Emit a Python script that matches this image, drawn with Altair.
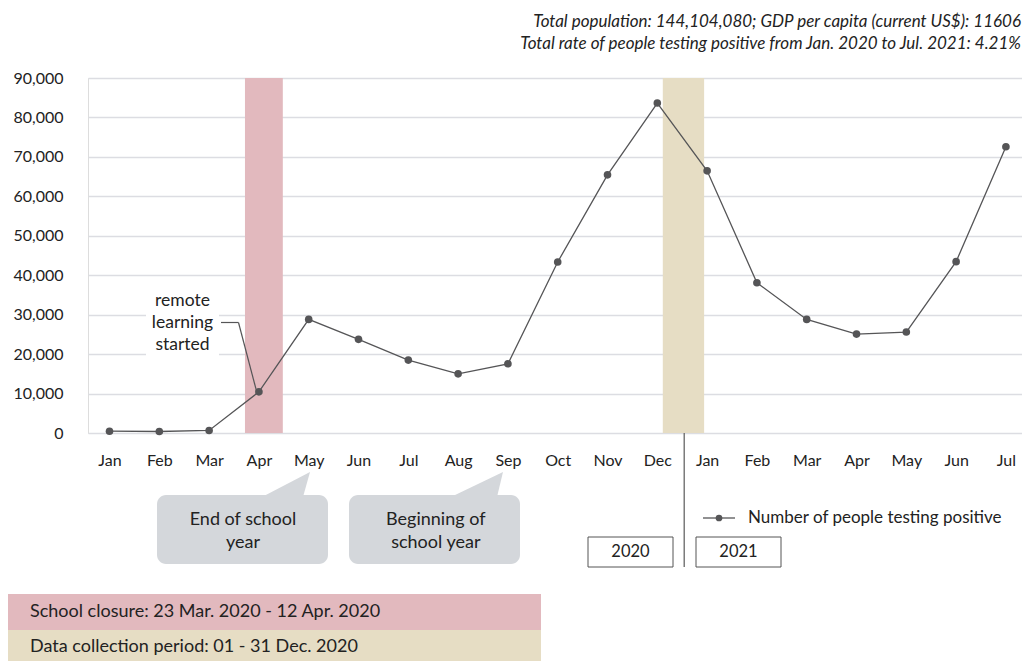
import altair as alt
import pandas as pd

# ---------------- data ----------------
months = ["Jan", "Feb", "Mar", "Apr", "May", "Jun", "Jul", "Aug", "Sep", "Oct", "Nov", "Dec",
          "Jan", "Feb", "Mar", "Apr", "May", "Jun", "Jul"]
positives = [460, 380, 640, 10430, 28800, 23740, 18480, 15000, 17540, 43360, 65450, 83650,
             66460, 38100, 28800, 25080, 25590, 43440, 72560]
month_index = list(range(len(months)))

# shaded periods, in month-index units (0 = Jan 2020)
band_start = [2.72, 11.11]
band_end = [3.48, 11.94]
band_color = ["#e2b9be", "#e6ddc4"]
divider_pos = 11.54

y_ticks = [0, 10000, 20000, 30000, 40000, 50000, 60000, 70000, 80000, 90000]

title_lines = ["Total population: 144,104,080; GDP per capita (current US$): 11606",
               "Total rate of people testing positive from Jan. 2020 to Jul. 2021: 4.21%"]

df = pd.DataFrame({"i": month_index, "month": months, "value": positives})
bands = pd.DataFrame({"start": band_start, "end": band_end, "color": band_color})
one = pd.DataFrame({"k": [0]})

W, H = 934, 355
LINE = "#555557"
TXT = "#222222"
FONT = "Lato"

xscale = alt.Scale(domain=[-0.432, 18.323], nice=False, zero=False)
yscale = alt.Scale(domain=[0, 90000], nice=False, zero=True)

label_expr = "[" + ",".join("'%s'" % m for m in months) + "][datum.value]"

x_axis = alt.Axis(values=month_index, labelExpr=label_expr, title=None, grid=False,
                  domain=False, ticks=False, labelFontSize=16, labelColor=TXT,
                  labelPadding=19, labelFont=FONT, labelAngle=0)
y_axis = alt.Axis(values=y_ticks, labelExpr="format(datum.value, ',')", title=None, grid=True,
                  gridColor="#dcdde2", gridWidth=1.5, domain=False, ticks=False,
                  labelFontSize=16, labelPadding=25, labelColor=TXT, labelFont=FONT)

# ---------------- helpers for annotations ----------------
def txt(s, x, y, size=17, align="center", italic=False, color=TXT):
    kw = dict(text=s, align=align, baseline="middle", fontSize=size, font=FONT, color=color)
    if italic:
        kw["fontStyle"] = "italic"
    return alt.Chart(one).mark_text(**kw).encode(x=alt.value(x), y=alt.value(y))


def box(x0, x1, y0, y1, fill, radius=0, stroke=None, sw=1):
    kw = dict(color=fill, opacity=1)
    if radius:
        kw["cornerRadius"] = radius
    if stroke:
        kw["stroke"] = stroke
        kw["strokeWidth"] = sw
    return alt.Chart(one).mark_rect(**kw).encode(
        x=alt.value(x0), x2=alt.value(x1), y=alt.value(y0), y2=alt.value(y1))


def seg(x0, y0, x1, y1, color=LINE, sw=1.2):
    return alt.Chart(one).mark_rule(color=color, strokeWidth=sw).encode(
        x=alt.value(x0), x2=alt.value(x1), y=alt.value(y0), y2=alt.value(y1))


def tri(cx, cy, path, size, color):
    return alt.Chart(one).mark_point(shape=path, size=size, filled=True, color=color,
                                     opacity=1, strokeWidth=0).encode(
        x=alt.value(cx), y=alt.value(cy))


# ---------------- main layers ----------------
band_layer = alt.Chart(bands).mark_rect(opacity=1).encode(
    x=alt.X("start:Q", scale=xscale, axis=x_axis),
    x2="end:Q",
    y=alt.value(0),
    y2=alt.value(H),
    color=alt.Color("color:N", scale=None, legend=None),
)

line_layer = alt.Chart(df).mark_line(color=LINE, strokeWidth=1.3).encode(
    x=alt.X("i:Q", scale=xscale, axis=x_axis),
    y=alt.Y("value:Q", scale=yscale, axis=y_axis),
)
point_layer = alt.Chart(df).mark_circle(color=LINE, size=58, opacity=1).encode(
    x=alt.X("i:Q", scale=xscale, axis=x_axis),
    y=alt.Y("value:Q", scale=yscale, axis=y_axis),
)

divider = alt.Chart(pd.DataFrame({"d": [divider_pos]})).mark_rule(color="#666666", strokeWidth=1.3).encode(
    x=alt.X("d:Q", scale=xscale, axis=x_axis),
    y=alt.value(H),
    y2=alt.value(489),
)

CALLOUT = "#d4d7db"
layers = [
    band_layer,
    # remote learning note
    box(58, 131, 212, 280, "white"),
    txt("remote", 94.5, 223, size=17.5),
    txt("learning", 94.5, 245, size=17.5),
    txt("started", 94.5, 267, size=17.5),
    seg(133, 244.5, 150.5, 244.5),
    seg(150.5, 244.5, 168.7, 313.7),
    line_layer,
    point_layer,
    divider,
    # callouts
    tri(198, 406, "M -0.96 0.52 L 0.96 -0.48 L 0.68 0.52 Z", 2500, CALLOUT),
    box(69, 240, 417, 486, CALLOUT, radius=9),
    txt("End of school", 155, 442, size=18),
    txt("year", 155, 465, size=18),
    tri(390, 406, "M -1 0.48 L 1 -0.48 L 0.76 0.52 Z", 2500, CALLOUT),
    box(261, 432, 417, 486, CALLOUT, radius=9),
    txt("Beginning of", 347.8, 442, size=18),
    txt("school year", 347.8, 465, size=18),
    # series legend
    seg(615, 440, 647, 440, sw=1.3),
    alt.Chart(one).mark_circle(color=LINE, size=45, opacity=1).encode(
        x=alt.value(631), y=alt.value(440)),
    txt("Number of people testing positive", 660, 440, align="left", size=17),
    # year boxes
    box(500, 585, 459, 489, "white", stroke="#555555", sw=1),
    txt("2020", 542.5, 474, size=16.5),
    box(608, 693, 459, 489, "white", stroke="#555555", sw=1),
    txt("2021", 650.5, 474, size=16.5),
    # period legend
    box(-81, 453, 516, 552, band_color[0]),
    box(-81, 453, 552, 583, band_color[1]),
    txt("School closure: 23 Mar. 2020 - 12 Apr. 2020", -58, 534, size=18, align="left"),
    txt("Data collection period: 01 - 31 Dec. 2020", -58, 569, size=18, align="left"),
    # header
    txt(title_lines[0], 933, -56, align="right", italic=True, size=17),
    txt(title_lines[1], 933, -34, align="right", italic=True, size=17),
]

chart = alt.layer(*layers).properties(
    width=W, height=H,
    autosize=alt.AutoSizeParams(type="none"),
    padding={"left": 80, "top": 70, "right": 0, "bottom": 228},
).configure_view(stroke=None).configure(font=FONT)

chart.save("out.html", embed_options={"renderer": "svg", "actions": False})
